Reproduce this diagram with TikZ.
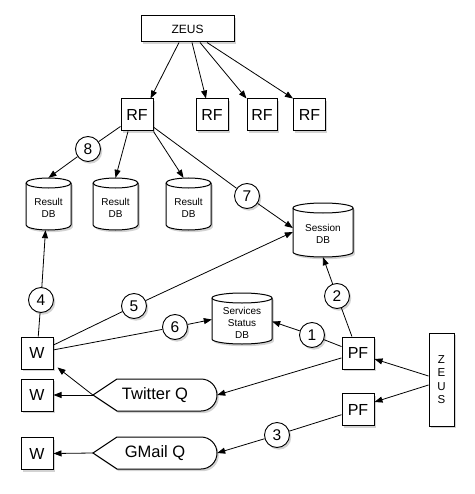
\documentclass[tikz,border=0pt]{standalone}
\usepackage{fontspec}
\setmainfont{Liberation Sans}
\usetikzlibrary{arrows.meta,shadows}
\newcommand\dbcyl[6]{%
  \path[cylbody] (#2-#4/2,#3-#5/2+5) -- (#2-#4/2,#3+#5/2-5)
    arc[start angle=180,end angle=0,x radius=#4/2,y radius=5]
    -- (#2+#4/2,#3-#5/2+5)
    arc[start angle=0,end angle=-180,x radius=#4/2,y radius=5] -- cycle;
  \draw[line width=1pt] (#2-#4/2,#3-#5/2+5)
    arc[start angle=180,end angle=0,x radius=#4/2,y radius=5];
  \node[inner sep=0pt,minimum width=#4pt,minimum height=#5pt] (#1) at (#2,#3) {};
  \node[dbtext] at (#2,#3+4) {#6};
}
\newcommand\queueshape[4]{%
  \path[qbody] (#2-62,#3) -- (#2-38,#3-16) -- (#2+46,#3-16)
    arc[start angle=-90,end angle=90,radius=16] -- (#2-38,#3+16) -- cycle;
  \node[inner sep=0pt,minimum width=124pt,minimum height=32pt,
        font=\fontsize{16.5}{18}\selectfont] (#1) at (#2,#3) {#4};
}
\begin{document}
\begin{tikzpicture}[x=1pt,y=-1pt,
  shad/.style={drop shadow={opacity=0.35,shadow xshift=1.8pt,shadow yshift=-2.2pt}},
  box/.style={draw,fill=white,line width=1pt,shad,inner sep=0pt,
    minimum width=32pt,minimum height=32pt,font=\fontsize{16}{18}\selectfont},
  num/.style={circle,draw,fill=white,line width=0.9pt,shad,inner sep=0pt,
    minimum size=25pt,font=\fontsize{15.5}{16}\selectfont},
  dbtext/.style={inner sep=0pt,align=center,font=\fontsize{10}{12}\selectfont},
  cylbody/.style={draw,fill=white,line width=1pt,shad},
  qbody/.style={draw,fill=white,line width=1pt,shad},
  conn/.style={line width=0.8pt},
  arr/.style={conn,-{Triangle[length=8pt,width=6pt]}},
]
\useasboundingbox (0,0) rectangle (474,494);

% top
\node[box,minimum width=93pt,minimum height=26pt,font=\fontsize{12}{14}\selectfont] (zeus) at (187.5,29) {ZEUS};
\node[box] (rf1) at (137,115) {RF};
\node[box] (rf2) at (212,115) {RF};
\node[box,minimum width=30pt] (rf3) at (262,115) {RF};
\node[box] (rf4) at (309.5,115) {RF};

% databases
\dbcyl{db1}{48.5}{204}{45}{52}{Result\\DB}
\dbcyl{db2}{115.5}{204}{45}{52}{Result\\DB}
\dbcyl{db3}{188.5}{204}{45}{52}{Result\\DB}
\dbcyl{sdb}{323}{230}{60}{54}{Session\\DB}
\dbcyl{ssdb}{242}{318.5}{60}{51}{Services\\Status\\DB}

% workers, fetchers
\node[box] (w1) at (37,353) {W};
\node[box] (w2) at (37,395) {W};
\node[box] (w3) at (37,453.5) {W};
\node[box] (pf1) at (358,353) {PF};
\node[box] (pf2) at (358,409.5) {PF};
\node[box,minimum width=25pt,minimum height=93pt,align=center,
  font=\fontsize{11.5}{13.5}\selectfont] (z2) at (441.5,379.5) {Z\\E\\U\\S};

% queues
\queueshape{twq}{155}{395}{Twitter Q}
\queueshape{gmq}{155}{453}{GMail Q}

% numbered circles
\node[num] (c8) at (88,149) {8};
\node[num] (c7) at (247,196) {7};
\node[num] (c4) at (41,300) {4};
\node[num] (c5) at (134,306) {5};
\node[num] (c6) at (175,327) {6};
\node[num] (c2) at (337,296) {2};
\node[num] (c1) at (312,335) {1};
\node[num] (c3) at (277,435) {3};

% ZEUS -> RF
\draw[arr] ([xshift=-8.5pt]zeus.south) -- ([xshift=-3pt]rf1.north east);
\draw[arr] ([xshift=4.5pt]zeus.south) -- ([xshift=-6pt]rf2.north);
\draw[arr] ([xshift=12.5pt]zeus.south) -- (rf3.north west);
\draw[arr] ([xshift=19.5pt]zeus.south) -- (rf4.north west);

% RF1 -> result DBs
\draw[conn] (rf1) -- (c8);
\draw[arr] (c8) -- (db1.north);
\draw[arr] ([xshift=-9pt]rf1.south) -- (db2.north);
\draw[arr] (rf1.south east) -- ([xshift=-5pt]db3.north);
\draw[conn] (rf1) -- (c7);
\draw[arr] (c7) -- ([yshift=2pt]sdb.west);

% W1 connections
\draw[conn] (w1) -- (c4);
\draw[arr] (c4) -- ([xshift=-3pt]db1.south);
\draw[conn] (w1) -- (c5);
\draw[arr] (c5) -- ([yshift=-2pt]sdb.west);
\draw[conn] (w1) -- (c6);
\draw[arr] (c6) -- ([yshift=-1pt]ssdb.west);

% PF1 connections
\draw[conn] (pf1) -- (c2);
\draw[arr] (c2) -- (sdb.south);
\draw[conn] (pf1) -- (c1);
\draw[arr] (c1) -- ([yshift=-3pt]ssdb.east);
\draw[arr] (pf1) -- (twq.east);

% ZEUS (right) -> PF
\draw[arr] ([yshift=3.5pt]z2.west) -- ([yshift=-6pt]pf1.east);
\draw[arr] ([yshift=-5.5pt]z2.west) -- ([yshift=7.5pt]pf2.east);

% PF2 -> GMail Q
\draw[conn] (pf2) -- (c3);
\draw[arr] (c3) -- (gmq.east);

% queues -> workers
\draw[arr] (twq.west) -- (w2.east);
\draw[arr] (twq.west) -- ([xshift=4pt,yshift=2pt]w1.south east);
\draw[arr] (gmq.west) -- (w3.east);
\end{tikzpicture}
\end{document}
